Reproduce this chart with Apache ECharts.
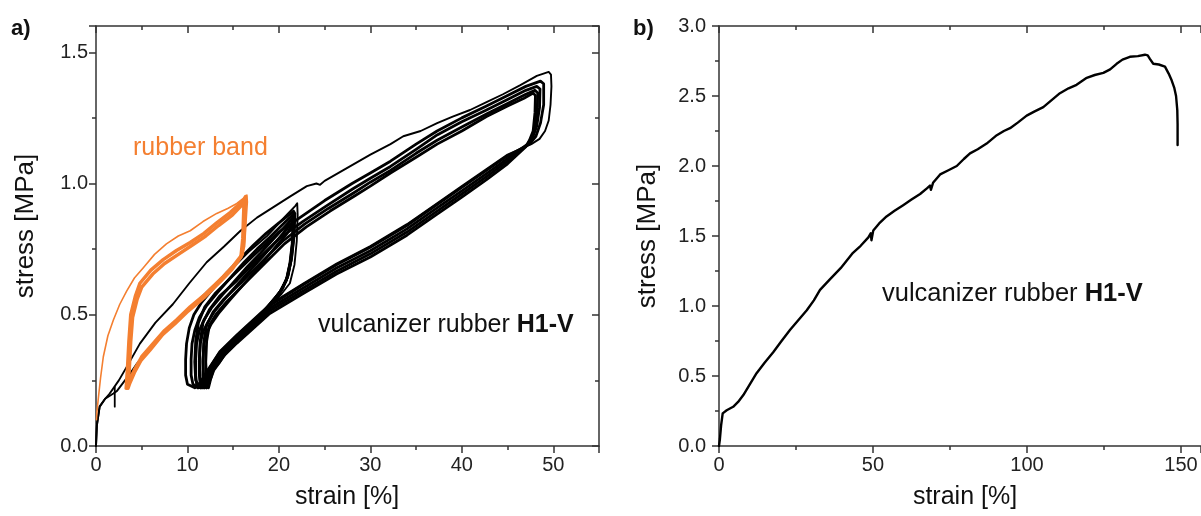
<!DOCTYPE html>
<html>
<head>
<meta charset="utf-8">
<script src="https://cdn.jsdelivr.net/npm/echarts@6/dist/echarts.min.js"></script>
<style>
html,body{margin:0;padding:0;background:#fff;}
#chart{width:1201px;height:516px;}
</style>
</head>
<body>
<div id="chart"></div>
<script>
// ---------- Panel a) : cyclic tests, strain [%] vs stress [MPa] ----------
const xTicksA = [0, 10, 20, 30, 40, 50];
const yTicksA = [0.0, 0.5, 1.0, 1.5];

// rubber band (orange)
const rubberFirstLoad = [[0.05,0.10],[0.1,0.13],[0.25,0.18],[0.5,0.26],[0.8,0.34],[1.3,0.42],[1.9,0.48],[2.6,0.54],[3.35,0.59],[4.2,0.64],[5.2,0.68],[6.4,0.73],[7.7,0.77],[9.0,0.80],[10.3,0.82],[11.7,0.855],[13.2,0.886],[14.4,0.905],[15.4,0.924],[16.0,0.94],[16.5,0.956],[16.55,0.93],[16.4,0.85],[16.25,0.76],[16.0,0.73]];
const rubberCycleA = [[3.3,0.22],[3.45,0.30],[3.6,0.40],[3.8,0.50],[4.3,0.57],[4.8,0.62],[6.0,0.67],[7.35,0.71],[8.8,0.745],[10.3,0.775],[11.8,0.81],[13.2,0.85],[14.7,0.89],[16.1,0.935],[16.35,0.95],[16.3,0.90],[16.2,0.80],[16.0,0.73],[15.0,0.685],[13.9,0.645],[12.0,0.58],[10.3,0.53],[8.8,0.48],[7.5,0.44],[6.0,0.38],[5.0,0.34],[4.2,0.29],[3.6,0.245],[3.3,0.22]];
const rubberCycleB = [[3.5,0.22],[3.65,0.30],[3.8,0.40],[4.0,0.49],[4.5,0.56],[5.0,0.605],[6.2,0.655],[7.5,0.695],[9.0,0.73],[10.5,0.765],[12.0,0.80],[13.4,0.84],[14.9,0.88],[16.0,0.92],[16.2,0.935],[16.15,0.89],[16.05,0.79],[15.85,0.72],[14.8,0.67],[13.7,0.63],[11.8,0.565],[10.1,0.515],[8.6,0.465],[7.3,0.425],[5.9,0.365],[4.9,0.325],[4.2,0.28],[3.7,0.24],[3.5,0.22]];

// vulcanizer rubber H1-V, test cycled to ~22 %
const vulc22FirstLoad = [[0,0],[0.1,0.08],[0.4,0.15],[1.0,0.18],[1.9,0.20],[2.3,0.21],[3.5,0.265],[4.5,0.315],[5.9,0.37],[8.0,0.45],[10.3,0.525],[12.5,0.60],[14.7,0.67],[16.7,0.74],[18.7,0.80],[20.3,0.86],[21.8,0.915],[22.0,0.925],[22.05,0.88],[21.95,0.78],[21.7,0.69],[21.2,0.62],[20.3,0.58],[18.5,0.515],[16.5,0.44],[14.7,0.38],[13.0,0.315],[11.8,0.265],[11.2,0.235],[10.9,0.222]];
const vulc22Cycle1 = [[10.8,0.222],[10.0,0.235],[9.8,0.27],[9.8,0.33],[9.9,0.39],[10.2,0.45],[10.7,0.50],[11.5,0.545],[12.8,0.60],[14.3,0.66],[15.8,0.715],[17.2,0.765],[18.6,0.81],[20.0,0.85],[21.1,0.88],[21.6,0.895],[21.75,0.885],[21.65,0.80],[21.4,0.72],[21.0,0.65],[20.4,0.60],[19.6,0.565],[18.5,0.52],[17.2,0.47],[15.9,0.42],[14.7,0.38],[13.5,0.335],[12.5,0.30],[11.8,0.265],[11.4,0.24],[11.1,0.222]];
const vulc22Cycle2 = [[11.2,0.222],[10.6,0.235],[10.4,0.27],[10.4,0.33],[10.5,0.39],[10.8,0.44],[11.3,0.49],[12.1,0.535],[13.3,0.585],[14.8,0.645],[16.2,0.70],[17.6,0.75],[19.0,0.795],[20.3,0.84],[21.2,0.87],[21.6,0.885],[21.7,0.875],[21.6,0.79],[21.35,0.71],[20.95,0.645],[20.3,0.595],[19.5,0.56],[18.4,0.515],[17.1,0.465],[15.8,0.415],[14.6,0.375],[13.5,0.33],[12.6,0.295],[12.0,0.265],[11.6,0.24],[11.4,0.222]];
const vulc22Cycle3 = [[11.5,0.222],[11.0,0.235],[10.9,0.27],[10.9,0.33],[11.0,0.39],[11.3,0.44],[11.8,0.48],[12.6,0.525],[13.8,0.575],[15.2,0.63],[16.6,0.685],[18.0,0.735],[19.3,0.785],[20.5,0.83],[21.3,0.86],[21.6,0.875],[21.65,0.865],[21.55,0.785],[21.3,0.705],[20.9,0.64],[20.2,0.59],[19.4,0.555],[18.3,0.51],[17.0,0.46],[15.7,0.41],[14.5,0.37],[13.5,0.325],[12.7,0.29],[12.2,0.262],[11.8,0.24],[11.6,0.222]];
const vulc22Cycle4 = [[11.8,0.222],[11.4,0.235],[11.3,0.27],[11.3,0.33],[11.4,0.39],[11.7,0.435],[12.2,0.47],[13.0,0.515],[14.2,0.565],[15.6,0.62],[17.0,0.675],[18.3,0.725],[19.6,0.775],[20.7,0.82],[21.4,0.85],[21.6,0.865],[21.6,0.855],[21.5,0.775],[21.25,0.70],[20.85,0.635],[20.1,0.585],[19.3,0.55],[18.2,0.505],[16.9,0.455],[15.6,0.405],[14.4,0.365],[13.5,0.32],[12.8,0.29],[12.4,0.262],[12.1,0.24],[11.9,0.222]];
const vulc22Cycle5 = [[12.1,0.222],[11.8,0.235],[11.7,0.27],[11.7,0.33],[11.8,0.39],[12.1,0.43],[12.6,0.465],[13.4,0.505],[14.6,0.555],[16.0,0.61],[17.4,0.665],[18.6,0.715],[19.8,0.765],[20.9,0.81],[21.4,0.84],[21.55,0.855],[21.55,0.845],[21.45,0.77],[21.2,0.695],[20.8,0.63],[20.0,0.58],[19.2,0.545],[18.1,0.50],[16.8,0.45],[15.5,0.40],[14.3,0.36],[13.5,0.318],[12.9,0.29],[12.6,0.262],[12.3,0.24],[12.1,0.222]];
const vulcSpike = [[2.05,0.15],[2.05,0.225]];

// vulcanizer rubber H1-V, test cycled to ~49 %
const vulc50FirstLoad = [[0,0],[0.1,0.08],[0.4,0.15],[1.0,0.18],[1.5,0.20],[2.5,0.25],[3.5,0.31],[4.8,0.39],[6.5,0.47],[8.4,0.54],[10.2,0.62],[12.1,0.70],[14.0,0.76],[15.8,0.82],[17.6,0.87],[19.4,0.91],[21.2,0.95],[23.05,0.99],[24.1,1.0],[24.5,0.995],[25.0,1.01],[27.0,1.05],[30.0,1.11],[32.2,1.15],[33.6,1.18],[35.5,1.20],[37.3,1.23],[39.0,1.255],[40.9,1.28],[42.7,1.31],[44.5,1.34],[46.4,1.375],[48.2,1.41],[49.5,1.425],[49.75,1.415],[49.8,1.37],[49.7,1.30],[49.5,1.24],[49.1,1.20],[48.5,1.17],[47.6,1.15],[45.0,1.11],[42.7,1.055],[40.0,0.99],[37.3,0.925],[34.0,0.845],[30.0,0.762],[26.3,0.695],[22.7,0.62],[19.0,0.54],[15.4,0.425],[13.5,0.36],[12.2,0.29],[11.7,0.25],[11.5,0.222]];
const vulc50Cycle1 = [[11.4,0.222],[10.9,0.25],[10.8,0.32],[10.9,0.40],[11.2,0.47],[11.9,0.53],[13.0,0.58],[15.0,0.65],[17.2,0.725],[20.0,0.815],[22.3,0.87],[25.0,0.935],[28.0,1.0],[30.0,1.04],[32.2,1.085],[35.0,1.15],[37.3,1.20],[40.0,1.25],[42.7,1.295],[45.0,1.335],[47.0,1.37],[48.6,1.39],[48.95,1.38],[48.95,1.30],[48.6,1.23],[48.1,1.18],[47.4,1.15],[45.0,1.105],[42.7,1.05],[40.0,0.985],[37.3,0.92],[34.0,0.84],[30.0,0.757],[26.3,0.69],[22.7,0.615],[19.0,0.535],[15.4,0.42],[13.5,0.355],[12.3,0.29],[11.8,0.25],[11.6,0.222]];
const vulc50Cycle2 = [[11.8,0.222],[11.4,0.25],[11.3,0.32],[11.4,0.40],[11.7,0.47],[12.4,0.52],[13.5,0.57],[15.4,0.63],[17.5,0.705],[20.2,0.795],[22.6,0.855],[25.2,0.915],[28.1,0.98],[30.0,1.02],[32.2,1.065],[35.0,1.13],[37.3,1.185],[40.0,1.235],[42.7,1.28],[45.0,1.32],[47.0,1.355],[48.2,1.37],[48.55,1.36],[48.5,1.29],[48.2,1.22],[47.8,1.18],[47.2,1.15],[45.0,1.095],[42.7,1.038],[40.0,0.972],[37.3,0.907],[34.0,0.827],[30.0,0.744],[26.3,0.678],[22.7,0.603],[19.0,0.525],[15.4,0.41],[13.5,0.345],[12.4,0.29],[12.0,0.25],[11.8,0.222]];
const vulc50Cycle3 = [[12.1,0.222],[11.8,0.25],[11.7,0.32],[11.8,0.40],[12.1,0.46],[12.8,0.51],[14.0,0.56],[15.8,0.62],[17.8,0.69],[20.4,0.78],[22.8,0.845],[25.4,0.905],[28.2,0.965],[30.0,1.005],[32.2,1.05],[35.0,1.115],[37.3,1.165],[40.0,1.215],[42.7,1.265],[45.0,1.305],[47.0,1.34],[48.0,1.355],[48.3,1.345],[48.25,1.28],[48.0,1.21],[47.6,1.17],[47.1,1.145],[45.0,1.085],[42.7,1.026],[40.0,0.96],[37.3,0.895],[34.0,0.815],[30.0,0.732],[26.3,0.666],[22.7,0.592],[19.0,0.515],[15.4,0.40],[13.5,0.337],[12.6,0.29],[12.3,0.25],[12.1,0.222]];
const vulc50Cycle4 = [[12.3,0.222],[12.1,0.25],[12.0,0.32],[12.1,0.40],[12.4,0.46],[13.1,0.50],[14.3,0.55],[16.0,0.61],[18.0,0.68],[20.6,0.77],[23.0,0.835],[25.6,0.895],[28.4,0.955],[30.0,0.99],[32.2,1.04],[35.0,1.10],[37.3,1.15],[40.0,1.20],[42.7,1.255],[45.0,1.295],[46.8,1.325],[47.8,1.345],[48.05,1.335],[48.0,1.27],[47.8,1.20],[47.4,1.165],[47.0,1.14],[45.0,1.075],[42.7,1.015],[40.0,0.948],[37.3,0.883],[34.0,0.803],[30.0,0.72],[26.3,0.655],[22.7,0.582],[19.0,0.505],[15.4,0.392],[13.6,0.33],[12.8,0.29],[12.5,0.25],[12.3,0.222]];

// ---------- Panel b) : tensile test to break ----------
const xTicksB = [0, 50, 100, 150];
const yTicksB = [0.0, 0.5, 1.0, 1.5, 2.0, 2.5, 3.0];
const tensileStrain = [0,0.3,0.7,1.2,2.5,4.6,6.2,7.9,10,12.2,14.8,17.6,20.3,23.1,25.8,28.5,30.8,32.8,36,39.5,43.5,46,48.5,49.3,49.5,50.1,52,54.4,57,59.8,62.5,65.3,67.5,68.5,68.8,69.5,71.8,74.5,77.2,79.5,81.5,84,86.9,90.2,92.5,94.5,97,99.9,102.5,105.3,108,110.7,113.5,116.1,119.4,122,124.8,127,129.1,131,133.4,136,138.3,139.2,139.9,141,142.8,144.8,146,147,147.8,148.4,148.8,148.9,148.9];
const tensileStress = [0,0.05,0.15,0.233,0.255,0.28,0.315,0.364,0.44,0.52,0.595,0.67,0.75,0.83,0.9,0.97,1.04,1.115,1.19,1.27,1.38,1.43,1.49,1.52,1.47,1.54,1.59,1.64,1.68,1.72,1.76,1.80,1.84,1.86,1.83,1.88,1.94,1.97,2.0,2.05,2.09,2.12,2.16,2.22,2.25,2.27,2.31,2.36,2.39,2.42,2.47,2.52,2.555,2.58,2.63,2.65,2.665,2.69,2.73,2.76,2.78,2.785,2.795,2.79,2.765,2.73,2.725,2.71,2.66,2.61,2.56,2.5,2.4,2.3,2.15];

// ---------- build ----------
const ORANGE = '#f47f30';
const AXC = '#333333';
const FONT = 'Liberation Sans, Arial, sans-serif';
const TICK_FS = 20;

function baseAxis(extra) {
  return Object.assign({
    type: 'value',
    axisLine: { show: true, onZero: false, lineStyle: { color: AXC, width: 1.5 } },
    axisTick: { show: true, length: 7, lineStyle: { color: AXC, width: 1.5 } },
    minorTick: { show: true, splitNumber: 2, length: 4, lineStyle: { color: AXC, width: 1.5 } },
    splitLine: { show: false },
    minorSplitLine: { show: false },
    axisLabel: { show: true, color: '#222', fontSize: TICK_FS, fontFamily: FONT, showMaxLabel: false }
  }, extra);
}
function mirror(a) {
  a.axisLabel = { show: false };
  a.axisTick = Object.assign({}, a.axisTick, { inside: true });
  return a;
}
function line(data, color, width, xi, yi) {
  return { type: 'line', data: data, xAxisIndex: xi, yAxisIndex: yi, showSymbol: false, symbol: 'none',
    lineStyle: { color: color, width: width, join: 'round', cap: 'round' }, silent: true, z: 2 };
}
function lbl(margin, showMax, fmt) {
  const o = { color: '#222', fontSize: TICK_FS, fontFamily: FONT, margin: margin, showMaxLabel: showMax };
  if (fmt) o.formatter = fmt;
  return o;
}

const tensile = tensileStrain.map((x, i) => [x, tensileStress[i]]);
const BW = 2.8;

const chart = echarts.init(document.getElementById('chart'), null, { renderer: 'canvas' });
chart.setOption({
  animation: false,
  backgroundColor: '#fff',
  grid: [
    { left: 96, top: 26, width: 503, height: 420 },
    { left: 719, top: 26, width: 482, height: 420 }
  ],
  xAxis: [
    baseAxis({ gridIndex: 0, min: xTicksA[0], max: 55, interval: xTicksA[1] - xTicksA[0], axisLabel: lbl(9, false) }),
    mirror(baseAxis({ gridIndex: 0, position: 'top', min: xTicksA[0], max: 55, interval: xTicksA[1] - xTicksA[0] })),
    baseAxis({ gridIndex: 1, min: xTicksB[0], max: 156.5, interval: xTicksB[1] - xTicksB[0], axisLabel: lbl(9, false) }),
    mirror(baseAxis({ gridIndex: 1, position: 'top', min: xTicksB[0], max: 156.5, interval: xTicksB[1] - xTicksB[0] }))
  ],
  yAxis: [
    baseAxis({ gridIndex: 0, min: yTicksA[0], max: 1.6, interval: yTicksA[1] - yTicksA[0], axisLabel: lbl(8, false, v => v.toFixed(1)) }),
    mirror(baseAxis({ gridIndex: 0, position: 'right', min: yTicksA[0], max: 1.6, interval: yTicksA[1] - yTicksA[0] })),
    baseAxis({ gridIndex: 1, min: yTicksB[0], max: yTicksB[yTicksB.length - 1], interval: yTicksB[1] - yTicksB[0], axisLabel: lbl(13, true, v => v.toFixed(1)) })
  ],
  series: [
    line(vulc22FirstLoad, '#000', 1.9, 0, 0),
    line(vulc22Cycle1, '#000', BW, 0, 0),
    line(vulc22Cycle2, '#000', BW, 0, 0),
    line(vulc22Cycle3, '#000', BW, 0, 0),
    line(vulc22Cycle4, '#000', BW, 0, 0),
    line(vulc22Cycle5, '#000', BW, 0, 0),
    line(vulcSpike, '#000', 1.8, 0, 0),
    line(vulc50FirstLoad, '#000', 1.9, 0, 0),
    line(vulc50Cycle1, '#000', BW, 0, 0),
    line(vulc50Cycle2, '#000', BW, 0, 0),
    line(vulc50Cycle3, '#000', BW, 0, 0),
    line(vulc50Cycle4, '#000', BW, 0, 0),
    line(rubberFirstLoad, ORANGE, 1.6, 0, 0),
    line(rubberCycleA, ORANGE, 3.5, 0, 0),
    line(rubberCycleB, ORANGE, 3.5, 0, 0),
    line(tensile, '#000', 2.4, 2, 2)
  ],
  graphic: [
    { type: 'text', left: 11, top: 18, style: { text: 'a)', fontSize: 22, fontWeight: 'bold', fontFamily: FONT, fill: '#111' } },
    { type: 'text', left: 633, top: 18, style: { text: 'b)', fontSize: 22, fontWeight: 'bold', fontFamily: FONT, fill: '#111' } },
    { type: 'text', x: 133, y: 148, style: { text: 'rubber band', fontSize: 25, fontFamily: FONT, fill: ORANGE, verticalAlign: 'middle' } },
    { type: 'text', x: 318, y: 325, style: { text: '{n|vulcanizer rubber }{b|H1-V}', verticalAlign: 'middle', fill: '#111',
        rich: { n: { fontSize: 25, fontFamily: FONT, fill: '#111' }, b: { fontSize: 25, fontFamily: FONT, fontWeight: 'bold', fill: '#111' } } } },
    { type: 'text', x: 882, y: 294, style: { text: '{n|vulcanizer rubber }{b|H1-V}', verticalAlign: 'middle', fill: '#111',
        rich: { n: { fontSize: 25.5, fontFamily: FONT, fill: '#111' }, b: { fontSize: 25.5, fontFamily: FONT, fontWeight: 'bold', fill: '#111' } } } },
    { type: 'text', x: 347, y: 497, style: { text: 'strain [%]', fontSize: 25, fontFamily: FONT, fill: '#111', align: 'center', verticalAlign: 'middle' } },
    { type: 'text', x: 965, y: 497, style: { text: 'strain [%]', fontSize: 25, fontFamily: FONT, fill: '#111', align: 'center', verticalAlign: 'middle' } },
    { type: 'text', x: 26, y: 226, rotation: Math.PI / 2, style: { text: 'stress [MPa]', fontSize: 26, fontFamily: FONT, fill: '#111', align: 'center', verticalAlign: 'middle' } },
    { type: 'text', x: 648, y: 236, rotation: Math.PI / 2, style: { text: 'stress [MPa]', fontSize: 26, fontFamily: FONT, fill: '#111', align: 'center', verticalAlign: 'middle' } }
  ]
});
</script>
</body>
</html>
